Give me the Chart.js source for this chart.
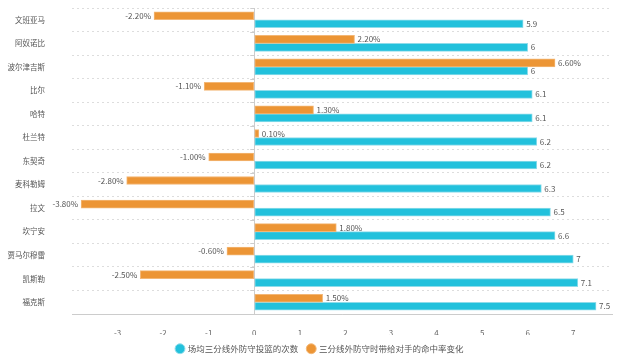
<!DOCTYPE html>
<html>
<head>
<meta charset="utf-8">
<script src="https://cdn.jsdelivr.net/npm/chart.js@4.4.0/dist/chart.umd.min.js"></script>
<style>
  body { margin: 0; background: #fff; }
  #wrap { width: 640px; height: 363px; }
</style>
</head>
<body>
<div id="wrap"><canvas id="myChart"></canvas></div>
<script>
// players, top to bottom
var players = ['文班亚马', '阿奴诺比', '波尔津吉斯', '比尔', '哈特', '杜兰特', '东契奇', '麦科勒姆', '拉文', '坎宁安', '贾马尔穆雷', '凯斯勒', '福克斯'];
// attempts per game from beyond the arc
var attempts = [5.9, 6, 6, 6.1, 6.1, 6.2, 6.2, 6.3, 6.5, 6.6, 7, 7.1, 7.5];
// change of opponent hit rate (%)
var pctChange = [-2.2, 2.2, 6.6, -1.1, 1.3, 0.1, -1.0, -2.8, -3.8, 1.8, -0.6, -2.5, 1.5];
var xTicks = [-3, -2, -1, 0, 1, 2, 3, 4, 5, 6, 7];

var FONT = '"Noto Sans CJK SC", "Noto Sans", sans-serif';

// draws value labels next to each bar + small ticks on zero line
var barLabels = {
  id: 'barLabels',
  afterDatasetsDraw: function(chart) {
    var ctx = chart.ctx;
    ctx.save();
    ctx.font = '8px ' + FONT;
    ctx.fillStyle = '#555';
    ctx.textBaseline = 'middle';
    chart.data.datasets.forEach(function(ds, i) {
      var meta = chart.getDatasetMeta(i);
      meta.data.forEach(function(bar, j) {
        var v = ds.data[j];
        var txt = i == 0 ? v.toFixed(2) + '%' : String(v);
        if (v >= 0) {
          ctx.textAlign = 'left';
          ctx.fillText(txt, bar.x + 3, bar.y);
        } else {
          ctx.textAlign = 'right';
          ctx.fillText(txt, bar.x - 3, bar.y);
        }
      });
    });
    // ticks on the zero line
    var x0 = chart.scales.x.getPixelForValue(0);
    var ys = chart.scales.y;
    ctx.strokeStyle = '#ccc';
    ctx.lineWidth = 1;
    for (var k = 0; k <= players.length; k++) {
      var yy = Math.round(ys.top + k * (ys.bottom - ys.top) / players.length) + 0.5;
      ctx.beginPath();
      ctx.moveTo(x0 - 4, yy);
      ctx.lineTo(x0, yy);
      ctx.stroke();
    }
    ctx.restore();
  }
};

const config = {
  type: 'bar',
  data: {
    labels: players,
    datasets: [{
      label: '三分线外防守时带给对手的命中率变化',
      data: pctChange,
      backgroundColor: '#ec9535',
      borderColor: '#f3b776',
      borderWidth: 1,
      borderSkipped: false,
      barThickness: 8,
      categoryPercentage: 0.75,
      barPercentage: 1
    }, {
      label: '场均三分线外防守投篮的次数',
      data: attempts,
      backgroundColor: '#22c1dc',
      borderColor: '#8fdcea',
      borderWidth: 1,
      borderSkipped: false,
      barThickness: 8,
      categoryPercentage: 0.75,
      barPercentage: 1
    }]
  },
  options: {
    indexAxis: 'y',
    responsive: true,
    maintainAspectRatio: false,
    animation: false,
    layout: { padding: { top: 8, right: 0, bottom: 0, left: 0 } },
    plugins: {
      tooltip: { enabled: false },
      legend: {
        position: 'bottom',
        labels: {
          usePointStyle: true,
          pointStyle: 'circle',
          boxWidth: 7,
          boxHeight: 7,
          padding: 9.5,
          color: '#555',
          font: { size: 8.5, family: FONT },
          sort: function(a, b) { return b.datasetIndex - a.datasetIndex; }
        }
      }
    },
    scales: {
      x: {
        min: -4,
        max: 7.85,
        afterBuildTicks: function(scale) {
          scale.ticks = xTicks.map(function(v) { return { value: v }; });
        },
        afterFit: function(scale) { scale.height = 21; },
        grid: {
          drawTicks: false,
          color: function(c) { return c.tick && c.tick.value === 0 ? '#ccc' : 'rgba(0,0,0,0)'; }
        },
        border: { display: true, color: '#ccc' },
        ticks: { color: '#666', padding: 14, font: { size: 8, family: FONT } }
      },
      y: {
        afterFit: function(scale) {
          scale.width = 72;
          scale.paddingTop = 0;
          scale.paddingBottom = 0;
        },
        grid: { drawTicks: false, color: '#ddd', offset: true },
        border: { display: false, dash: [2, 3] },
        ticks: { color: '#555', padding: 27, font: { size: 7.5, family: FONT } }
      },
      // empty spacer on the right
      yRight: {
        type: 'category',
        position: 'right',
        afterFit: function(scale) {
          scale.width = 28;
          scale.paddingTop = 0;
          scale.paddingBottom = 0;
        },
        grid: { display: false },
        border: { display: false },
        ticks: { display: false }
      }
    }
  },
  plugins: [barLabels]
};

const myChart = new Chart(document.getElementById('myChart'), config);
</script>
</body>
</html>
